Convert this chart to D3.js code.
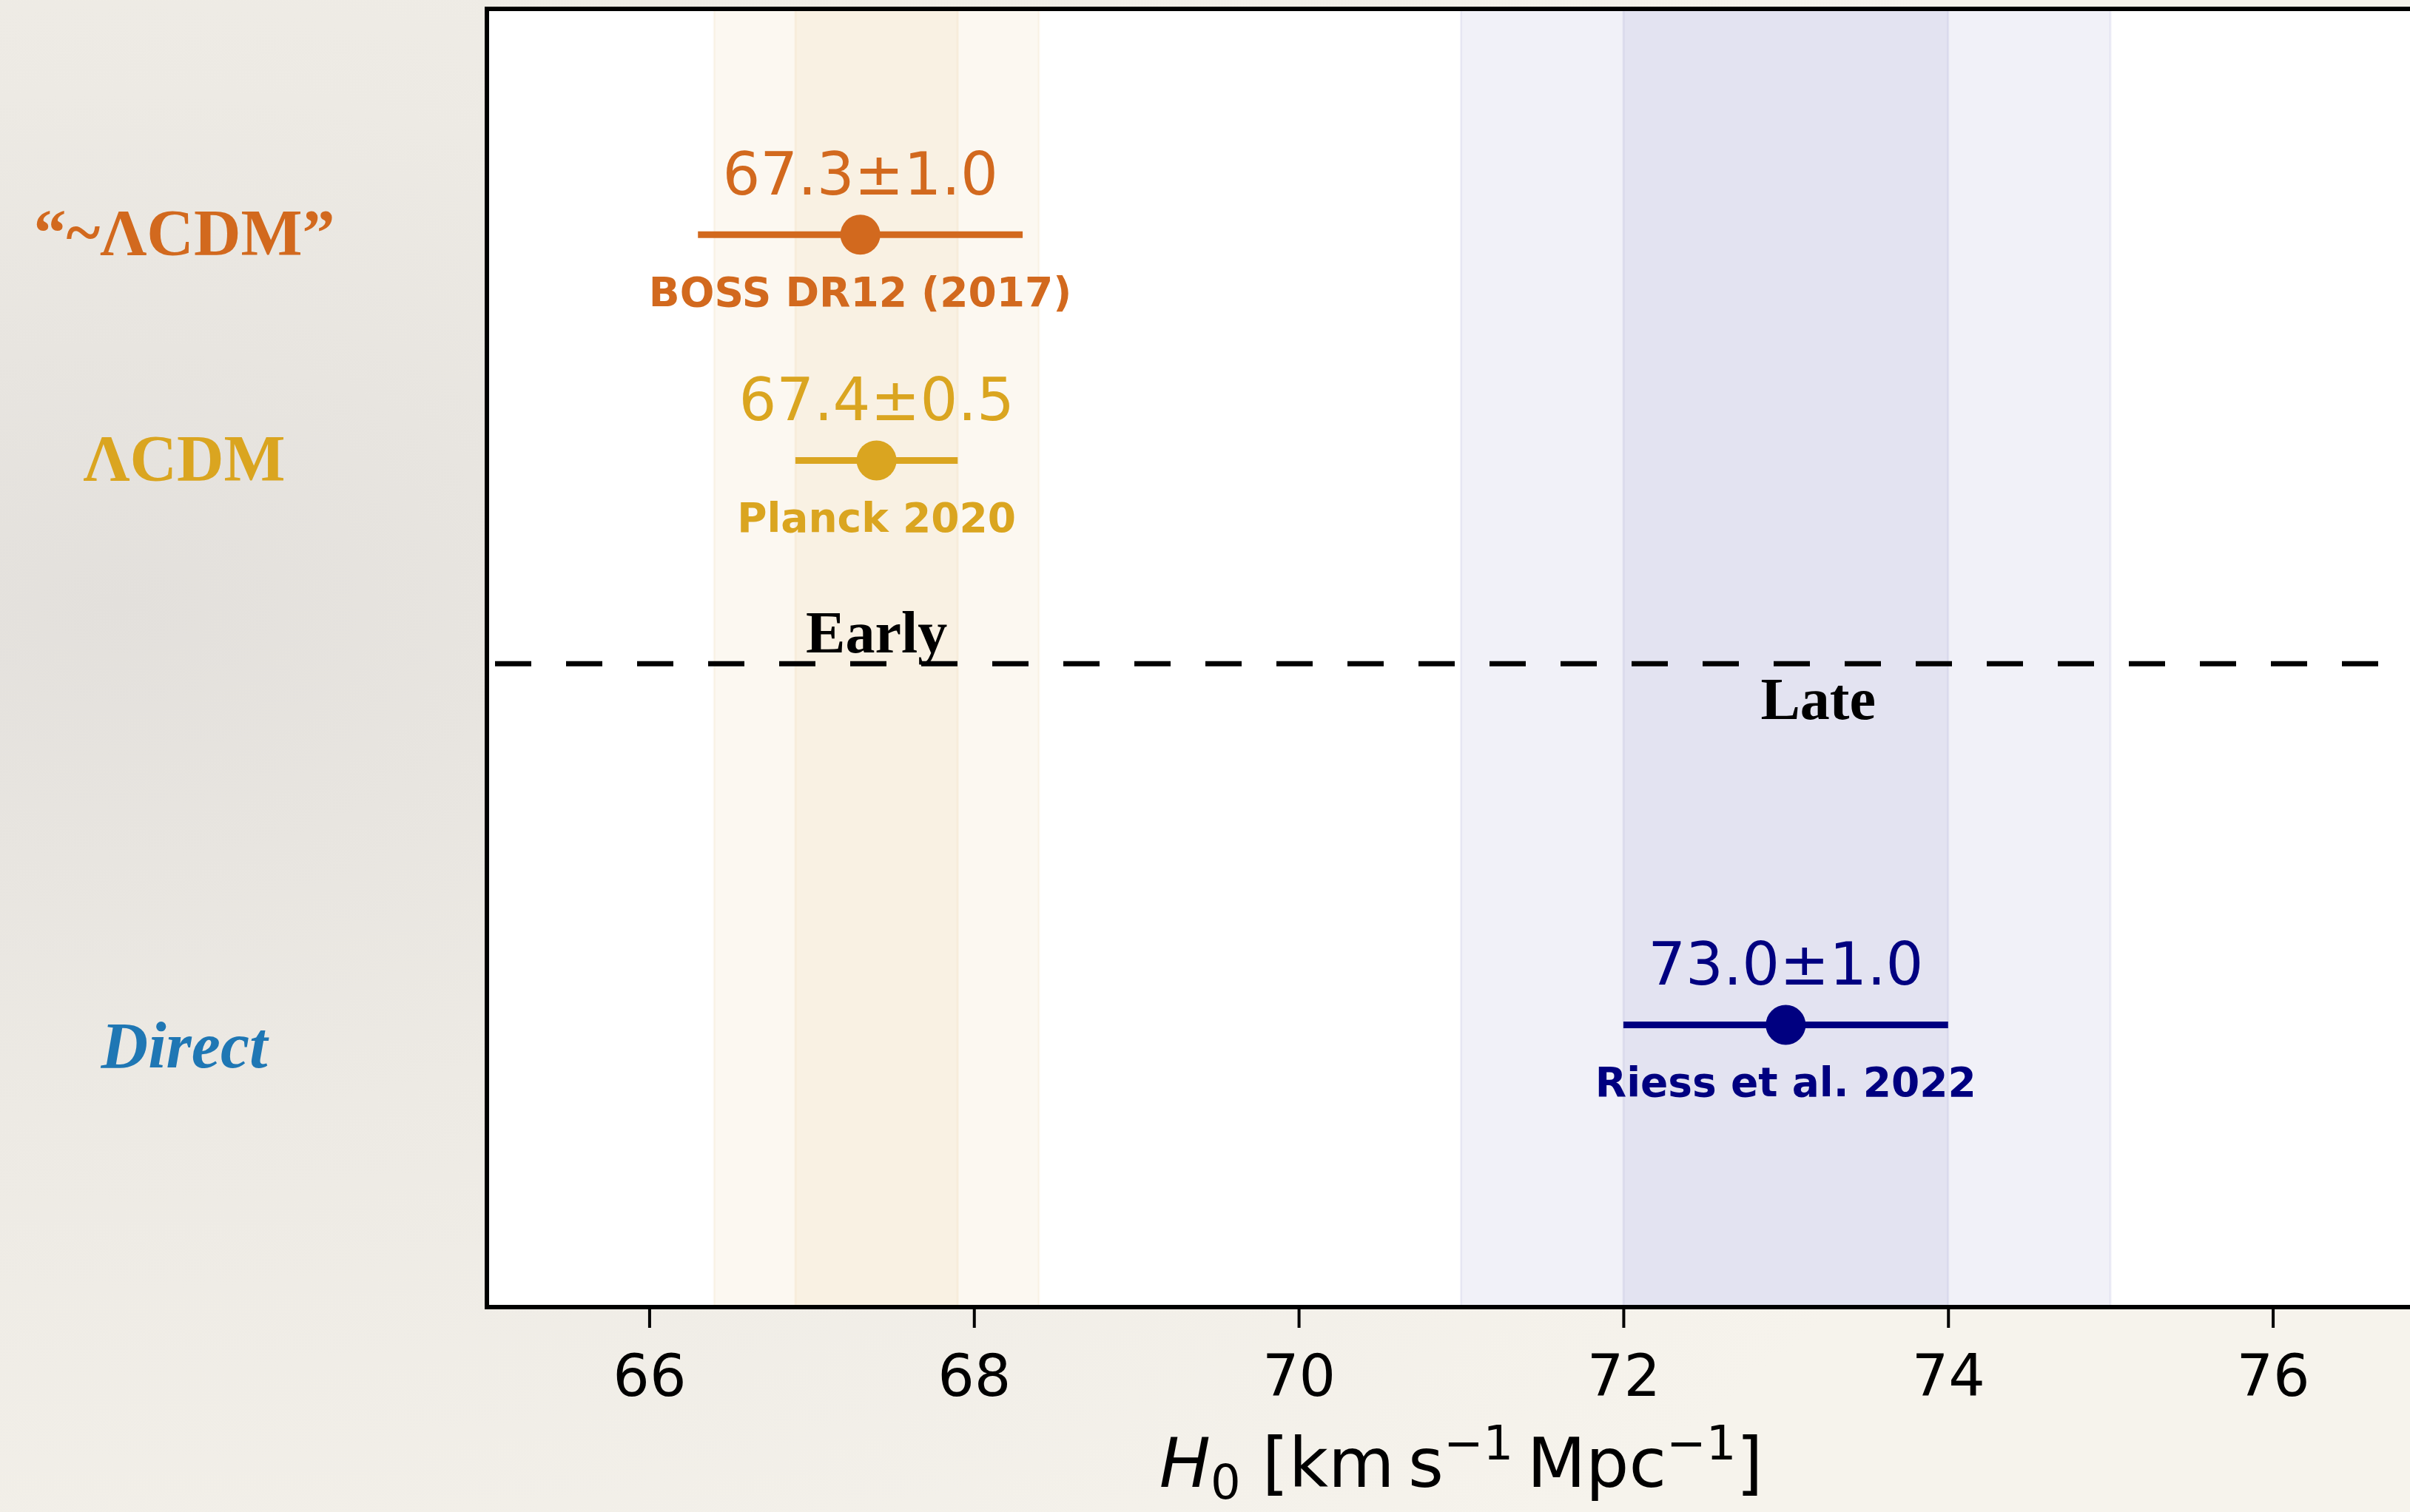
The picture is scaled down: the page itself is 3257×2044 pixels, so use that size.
<!DOCTYPE html>
<html>
<head>
<meta charset="utf-8">
<script src="https://cdn.jsdelivr.net/npm/d3@7"></script>
<style>
  html, body { margin: 0; padding: 0; background: #f3f0ea; }
  svg { display: block; }
</style>
</head>
<body>
<div id="chart"></div>
<script>
const names = ["BOSS DR12 (2017)", "Planck 2020", "Riess et al. 2022"];
const values = [67.3, 67.4, 73.0];
const errors = [1.0, 0.5, 1.0];
const rows = [1, 2, 4.5];               // vertical slot of each measurement
const colors = ["#d2691e", "#daa520", "#000080"];

const groupLabels = ["“~ΛCDM”", "ΛCDM", "Direct"];
const groupRows = [1, 2, 4.6];
const groupColors = ["#d2691e", "#daa520", "#1f77b4"];
const groupItalic = [false, false, true];

// 1σ / 2σ reference bands (Planck and Riess)
const bandCenters = [67.4, 73.0];
const bandSigmas = [0.5, 1.0];
const bandColors = ["#d0880e", "#000080"];
const bandAlpha = [0.06, 0.055];

const dividerRow = 2.9;
const eraLabels = ["Early", "Late"];
const eraX = [67.4, 73.2];

const xTicks = [66, 68, 70, 72, 74, 76];
const xDomain = [65, 77];
const yDomain = [0, 5.75];

const W = 3257, H = 2044;
const plot = { left: 658, top: 12, right: 3291, bottom: 1767 };

const svg = d3.select("#chart").append("svg").attr("width", W).attr("height", H);

// paper-ish backdrop: greyer on the left, warmer toward the bottom
const defs = svg.append("defs");
const bg = defs.append("radialGradient").attr("id", "paper")
  .attr("cx", "0.05").attr("cy", "0.4").attr("r", "0.85");
bg.append("stop").attr("offset", "0").attr("stop-color", "#e3e0dc");
bg.append("stop").attr("offset", "0.4").attr("stop-color", "#edeae4");
bg.append("stop").attr("offset", "1").attr("stop-color", "#f6f3ec");
svg.append("rect").attr("width", W).attr("height", H).attr("fill", "url(#paper)");

const x = d3.scaleLinear().domain(xDomain).range([plot.left, plot.right]);
const y = d3.scaleLinear().domain(yDomain).range([plot.top, plot.bottom]);

svg.append("rect")
  .attr("x", plot.left).attr("y", plot.top)
  .attr("width", plot.right - plot.left).attr("height", plot.bottom - plot.top)
  .attr("fill", "#fff");

// bands: 2σ then 1σ, each a translucent span, overlapping in the middle
const bands = [];
bandCenters.forEach((c, i) => {
  [2, 1].forEach((k) => bands.push({ lo: c - k * bandSigmas[i], hi: c + k * bandSigmas[i], color: bandColors[i], a: bandAlpha[i] }));
});
svg.append("g").selectAll("rect").data(bands).join("rect")
  .attr("x", (d) => x(d.lo))
  .attr("y", plot.top)
  .attr("width", (d) => x(d.hi) - x(d.lo))
  .attr("height", plot.bottom - plot.top)
  .attr("fill", (d) => d.color).attr("fill-opacity", (d) => d.a)
  .attr("stroke", (d) => d.color).attr("stroke-opacity", (d) => d.a).attr("stroke-width", 3);

// early / late divider
svg.append("line")
  .attr("x1", plot.left).attr("x2", plot.right)
  .attr("y1", y(dividerRow)).attr("y2", y(dividerRow))
  .attr("stroke", "#000").attr("stroke-width", 7)
  .attr("stroke-dasharray", "49,47").attr("stroke-dashoffset", 85);

svg.append("g").selectAll("text").data(eraLabels).join("text")
  .attr("x", (d, i) => x(eraX[i]))
  .attr("y", (d, i) => y(dividerRow) + (i === 0 ? -15 : 75))
  .attr("text-anchor", "middle")
  .attr("font-family", "'Liberation Serif', serif")
  .attr("font-weight", "bold")
  .attr("font-size", 80)
  .attr("fill", "#000")
  .text((d) => d);

// measurements
const pts = names.map((n, i) => ({ name: n, v: values[i], e: errors[i], row: rows[i], color: colors[i] }));
const g = svg.append("g").selectAll("g").data(pts).join("g");
g.append("line")
  .attr("x1", (d) => x(d.v - d.e)).attr("x2", (d) => x(d.v + d.e))
  .attr("y1", (d) => y(d.row)).attr("y2", (d) => y(d.row))
  .attr("stroke", (d) => d.color).attr("stroke-width", 9);
g.append("circle")
  .attr("cx", (d) => x(d.v)).attr("cy", (d) => y(d.row)).attr("r", 27)
  .attr("fill", (d) => d.color);
g.append("text")
  .attr("x", (d) => x(d.v)).attr("y", (d) => y(d.row) - 54)
  .attr("text-anchor", "middle")
  .attr("font-family", "'DejaVu Sans', sans-serif").attr("font-size", 80)
  .attr("fill", (d) => d.color)
  .text((d) => d.v.toFixed(1) + "±" + d.e.toFixed(1));
g.append("text")
  .attr("x", (d) => x(d.v)).attr("y", (d) => y(d.row) + 97)
  .attr("text-anchor", "middle")
  .attr("font-family", "'DejaVu Sans', sans-serif").attr("font-size", 55).attr("font-weight", "bold")
  .attr("fill", (d) => d.color)
  .text((d) => d.name);

// frame (right spine sits just past the canvas edge)
svg.append("rect")
  .attr("x", plot.left).attr("y", plot.top)
  .attr("width", plot.right - plot.left).attr("height", plot.bottom - plot.top)
  .attr("fill", "none").attr("stroke", "#000").attr("stroke-width", 6);

// x axis
const ax = svg.append("g").attr("transform", `translate(0,${plot.bottom})`)
  .call(d3.axisBottom(x).tickValues(xTicks).tickFormat(d3.format("d")).tickSize(28).tickSizeOuter(0).tickPadding(37));
ax.select(".domain").remove();
ax.selectAll(".tick line").attr("stroke", "#000").attr("stroke-width", 4);
ax.selectAll(".tick text")
  .attr("font-family", "'DejaVu Sans', sans-serif").attr("font-size", 78).attr("fill", "#000");

const lab = svg.append("text")
  .attr("x", (plot.left + plot.right) / 2).attr("y", 2010)
  .attr("text-anchor", "middle")
  .attr("font-family", "'DejaVu Sans', sans-serif").attr("font-size", 92).attr("fill", "#000");
lab.append("tspan").attr("font-style", "italic").text("H");
lab.append("tspan").attr("font-size", 64).attr("dy", 16).text("0");
lab.append("tspan").attr("dy", -16).text(" [km\u2009s");
lab.append("tspan").attr("font-size", 64).attr("dy", -37).text("−1");
lab.append("tspan").attr("dy", 37).text("\u2009Mpc");
lab.append("tspan").attr("font-size", 64).attr("dy", -37).text("−1");
lab.append("tspan").attr("dy", 37).text("]");

// category labels to the left of the frame
svg.append("g").selectAll("text").data(groupLabels).join("text")
  .attr("x", 249)
  .attr("y", (d, i) => y(groupRows[i]) + 27)
  .attr("text-anchor", "middle")
  .attr("font-family", "'Liberation Serif', serif")
  .attr("font-size", 88)
  .attr("font-weight", "bold")
  .attr("font-style", (d, i) => groupItalic[i] ? "italic" : "normal")
  .attr("fill", (d, i) => groupColors[i])
  .text((d) => d);
</script>
</body>
</html>
